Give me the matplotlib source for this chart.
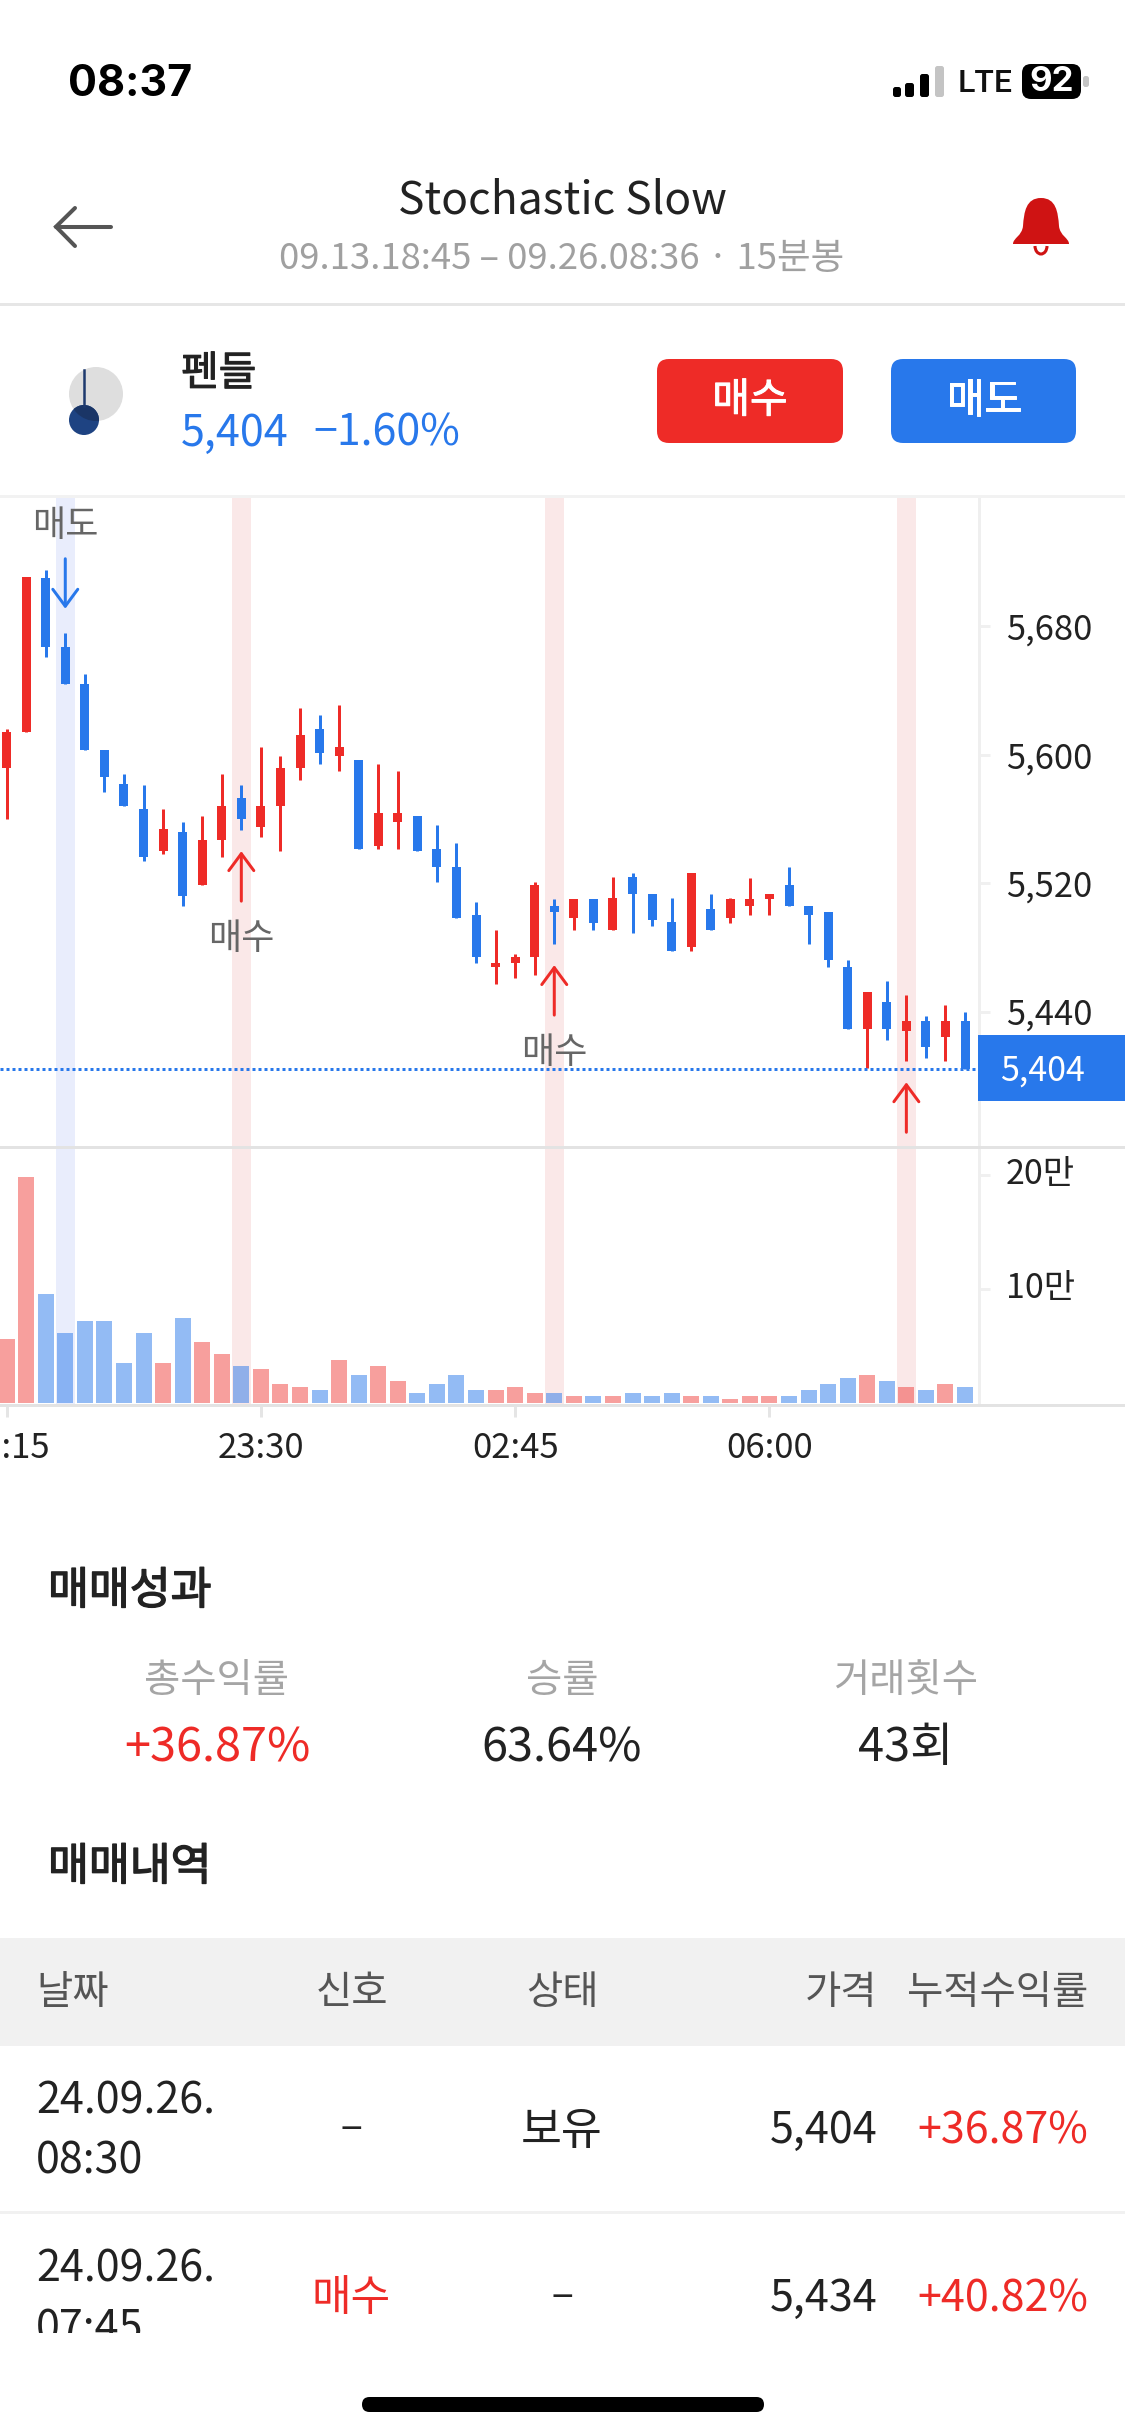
import matplotlib
matplotlib.use('Agg')
import matplotlib.pyplot as plt
from matplotlib.patches import Rectangle, FancyBboxPatch, Circle, PathPatch, Arc
from matplotlib.path import Path
from matplotlib.transforms import offset_copy
import matplotlib.patheffects as pe
import numpy as np

plt.rcParams['font.family'] = ['Noto Sans CJK KR', 'DejaVu Sans']

RED = '#ee2b27'
BLUE = '#2878eb'
DARK = '#222222'
GREY = '#a5a5a5'

# 15 minute candles
opens = [5592, 5614, 5710, 5667, 5644, 5603, 5582, 5566, 5540, 5552,
         5519, 5547, 5573, 5555, 5568, 5592, 5616, 5599, 5597, 5543,
         5558, 5562, 5541, 5530, 5500, 5468, 5470, 5474, 5506, 5498,
         5510, 5491, 5524, 5513, 5496, 5480, 5504, 5498, 5506, 5510,
         5519, 5506, 5502, 5468, 5429, 5446, 5428, 5434, 5424, 5434]
closes = [5614, 5711, 5667, 5644, 5603, 5586, 5568, 5536, 5554, 5512,
          5547, 5568, 5560, 5568, 5592, 5612, 5601, 5605, 5541, 5564,
          5564, 5540, 5530, 5498, 5474, 5470, 5474, 5519, 5502, 5510,
          5495, 5511, 5513, 5497, 5478, 5526, 5491, 5510, 5510, 5513,
          5506, 5500, 5472, 5429, 5452, 5429, 5434, 5418, 5434, 5404]
highs = [5616, 5711, 5715, 5676, 5650, 5603, 5588, 5581, 5566, 5558,
         5562, 5588, 5581, 5605, 5599, 5629, 5625, 5631, 5597, 5594,
         5590, 5562, 5556, 5545, 5508, 5491, 5476, 5521, 5510, 5510,
         5510, 5524, 5526, 5513, 5511, 5526, 5513, 5511, 5523, 5513,
         5530, 5506, 5502, 5472, 5452, 5459, 5450, 5437, 5444, 5440]
lows = [5560, 5614, 5661, 5644, 5603, 5577, 5568, 5534, 5538, 5506,
        5519, 5536, 5553, 5549, 5540, 5584, 5594, 5590, 5541, 5541,
        5541, 5540, 5521, 5498, 5470, 5457, 5461, 5463, 5482, 5491,
        5491, 5491, 5489, 5493, 5478, 5478, 5491, 5495, 5500, 5500,
        5506, 5482, 5468, 5429, 5405, 5422, 5409, 5411, 5409, 5404]
# volume in units of 만
volumes = [5.56, 19.77, 9.5, 6.08, 7.13, 7.13, 3.45, 6.08, 3.45, 7.4,
           5.29, 4.24, 3.19, 2.92, 1.61, 1.35, 1.08, 3.71, 2.4, 3.19,
           1.87, 0.82, 1.61, 2.4, 1.08, 1.08, 1.35, 0.82, 0.82, 0.56,
           0.56, 0.56, 0.82, 0.56, 0.82, 0.56, 0.56, 0.29, 0.56, 0.56,
           0.56, 1.08, 1.61, 2.13, 2.4, 1.87, 1.35, 1.08, 1.61, 1.35]

price_ticks = [5440, 5520, 5600, 5680]
price_labels = ['5,440', '5,520', '5,600', '5,680']
vol_ticks = [10, 20]
vol_labels = ['10만', '20만']
time_ticks = [0, 13, 26, 39]
time_labels = ['20:15', '23:30', '02:45', '06:00']
buy_signals = [12, 28, 46]
sell_signals = [3]

W, H = 1125, 2436
AXIS_X = 979
TOP_Y, MID_Y, BOT_Y = 498, 1147, 1405
PX_PER_CANDLE = 19.56
PX_PER_WON = 1.605
FIRST_X = 6.6

fig = plt.figure(figsize=(W / 100, H / 100), dpi=100)


def px_axes(x0, y0, x1, y1):
    return fig.add_axes([x0 / W, 1 - y1 / H, (x1 - x0) / W, (y1 - y0) / H])


opens, closes, highs, lows, volumes = [
    np.array(a, dtype=float) for a in (opens, closes, highs, lows, volumes)
]
idx = np.arange(len(opens))
colors = [RED if c >= o else BLUE for o, c in zip(opens, closes)]
x_lims = (-FIRST_X / PX_PER_CANDLE, (AXIS_X - FIRST_X) / PX_PER_CANDLE)
last = closes[-1]

# price panel
ax = px_axes(0, TOP_Y, AXIS_X, MID_Y)
ax.set_xlim(*x_lims)
ax.set_ylim(last - (MID_Y - 1069.3) / PX_PER_WON, last + (1069.3 - TOP_Y) / PX_PER_WON)
ax.patch.set_alpha(0)
for i in buy_signals:
    ax.axvspan(i - 0.49, i + 0.49, color='#fae8e8', lw=0, zorder=0)
for i in sell_signals:
    ax.axvspan(i - 0.49, i + 0.49, color='#e9edfc', lw=0, zorder=0)
ax.vlines(idx, lows, highs, colors=colors, lw=2.16, capstyle='butt', zorder=2)
body_low = np.minimum(opens, closes)
body_h = np.abs(closes - opens)
ax.bar(idx, body_h, bottom=body_low, width=9 / PX_PER_CANDLE, color=colors, zorder=3)
ax.axhline(last, color=BLUE, lw=2.16, ls=(0, (1, 1)), zorder=4)


def signal_arrow(i, y, tip, tail, label_off, color, label):
    tip_tr = offset_copy(ax.transData, fig=fig, y=tip, units='dots')
    tail_tr = offset_copy(ax.transData, fig=fig, y=tail, units='dots')
    ax.annotate('', xy=(i, y), xycoords=tip_tr, xytext=(i, y), textcoords=tail_tr,
                arrowprops=dict(arrowstyle='->,head_length=12.2,head_width=9',
                                mutation_scale=1, shrinkA=0, shrinkB=0,
                                lw=2.16, color=color), zorder=5)
    ax.text(i, y, label, transform=offset_copy(ax.transData, fig=fig, y=label_off, units='dots'),
            ha='center', va='center', fontsize=26, color='#666666', clip_on=True, zorder=5)


for i in buy_signals:
    signal_arrow(i, lows[i], -21, -71, -109, RED, '매수')
for i in sell_signals:
    signal_arrow(i, highs[i], 24, 74, 107, BLUE, '매도')

ax.yaxis.tick_right()
ax.set_yticks(price_ticks, price_labels)
ax.set_xticks([])
ax.tick_params(axis='y', length=7.9, width=2.16, color='#f0f0f0', pad=11.5,
               labelsize=24.8, labelcolor=DARK)
for s in ax.spines.values():
    s.set_visible(False)

# volume panel
vax = px_axes(0, MID_Y, AXIS_X, BOT_Y)
vax.set_xlim(*x_lims)
vax.set_ylim(-2.3 / 11.4, (1402.7 - MID_Y) / 11.4)
vax.patch.set_alpha(0)
for i in buy_signals:
    vax.axvspan(i - 0.49, i + 0.49, color='#fae8e8', lw=0, zorder=0)
for i in sell_signals:
    vax.axvspan(i - 0.49, i + 0.49, color='#e9edfc', lw=0, zorder=0)
for i, v in enumerate(volumes):
    vax.bar(i, v, width=16 / PX_PER_CANDLE, color=colors[i],
            alpha=0.45 if colors[i] == RED else 0.5, lw=0, zorder=2)
vax.yaxis.tick_right()
vax.set_yticks(vol_ticks, vol_labels)
vax.set_xticks(time_ticks, time_labels)
vax.tick_params(axis='y', length=7.9, width=2.16, color='#f0f0f0', pad=11.5,
                labelsize=24.5, labelcolor=DARK)
vax.tick_params(axis='x', length=8.6, width=2.16, color='#e5e5e5', pad=10,
                labelsize=25, labelcolor=DARK)
for lbl in vax.get_yticklabels():
    lbl.set_verticalalignment('center')
for s in vax.spines.values():
    s.set_visible(False)

# everything around the chart, in screen pixels
ui = fig.add_axes([0, 0, 1, 1], zorder=5)
ui.set_xlim(0, W)
ui.set_ylim(H, 0)
ui.axis('off')
ui.patch.set_alpha(0)


def txt(x, y, s, size, color=DARK, ha='center', **kw):
    # va=center sits a bit high for these fonts
    return ui.text(x, y + 3, s, fontsize=size, color=color, ha=ha, va='center', **kw)


def medium(x, y, s, size, color=DARK, ha='center', stroke=0.7):
    # no medium weight installed, thicken the regular one a little
    t = txt(x, y, s, size, color=color, ha=ha)
    t.set_path_effects([pe.withStroke(linewidth=stroke, foreground=color)])
    return t


def rbox(x0, y0, x1, y1, r, color, **kw):
    ui.add_patch(FancyBboxPatch((x0 + r, y0 + r), x1 - x0 - 2 * r, y1 - y0 - 2 * r,
                                boxstyle=f'round,pad={r},rounding_size={r}',
                                fc=color, ec='none', **kw))


def rect(x0, y0, x1, y1, color, **kw):
    ui.add_patch(Rectangle((x0, y0), x1 - x0, y1 - y0, fc=color, ec='none', **kw))


# status bar
txt(68, 82, '08:37', 31, color='black', ha='left', family='Inter', weight='bold')
for x0, x1, y0, c in [(893, 901, 87, 'black'), (905, 914, 83, 'black'),
                      (920, 929, 74, 'black'), (935, 944, 66, '#c4c4c4')]:
    rbox(x0, y0, x1, 97, 2.5, c)
txt(958, 81, 'LTE', 23, color='#111111', ha='left', family='Roboto', weight='medium')
rbox(1022, 64, 1081, 99, 9, 'black')
txt(1052, 79, '92', 25, color='white', family='Inter', weight='bold')
rbox(1083, 76, 1089, 87, 2.5, '#c4c4c4')

# header
ui.plot([111, 56], [226.7, 226.7], color='#555555', lw=2.9, solid_capstyle='round')
ui.plot([75, 56, 75], [208, 226.7, 246], color='#555555', lw=2.9, solid_capstyle='round',
        solid_joinstyle='miter')
txt(562, 198, 'Stochastic Slow', 32)
txt(562, 256, '09.13.18:45 – 09.26.08:36 · 15분봉', 26.3, color='#a0a0a0')
bell = Path([(1041, 198), (1026, 198), (1024, 212), (1023, 226), (1022, 236), (1013, 238),
             (1013, 244), (1069, 244), (1069, 238), (1060, 236), (1059, 226), (1058, 212),
             (1056, 198), (1041, 198), (1041, 198)],
            [Path.MOVETO, Path.CURVE4, Path.CURVE4, Path.CURVE4, Path.CURVE4, Path.CURVE4,
             Path.LINETO, Path.LINETO, Path.CURVE4, Path.CURVE4, Path.CURVE4, Path.CURVE4,
             Path.CURVE4, Path.CURVE4, Path.CLOSEPOLY])
ui.add_patch(PathPatch(bell, fc='#cf1313', ec='none'))
ui.add_patch(Arc((1041, 246), 12, 16, theta1=0, theta2=180, color='#cf1313', lw=2.2))
rect(0, 302.5, W, 305.5, '#e6e6e6')

# coin row
grey_disc = Circle((96, 394), 27, fc='#dedede', ec='none')
ui.add_patch(grey_disc)
ui.add_patch(Circle((84, 420), 15, fc='#1e4382', ec='none'))
overlap = Circle((84, 420), 15, fc='#1a3566', ec='none')
ui.add_patch(overlap)
overlap.set_clip_path(grey_disc)
ui.plot([84, 84], [370, 406], color='#1e3a6e', lw=1.8)
medium(181, 371, '펜들', 29.5, ha='left')
txt(181, 431, '5,404', 31, color=BLUE, ha='left')
txt(313, 431, '−1.60%', 31, color=BLUE, ha='left')
rbox(657, 359, 843, 443, 12, RED)
rbox(891, 359, 1076, 443, 12, BLUE)
medium(750, 398, '매수', 29.5, color='white')
medium(984, 398, '매도', 29.5, color='white')
rect(0, 494.5, W, 497.5, '#f2f2f2')

# panel frame and current price tag
rect(AXIS_X - 1.5, TOP_Y, AXIS_X + 1.5, BOT_Y, '#efefef')
rect(0, MID_Y - 1.5, W, MID_Y + 1.5, '#e3e3e3')
rect(0, BOT_Y - 1.5, W, BOT_Y + 1.5, '#e3e3e3')
rect(978, 1035, W, 1101, BLUE)
txt(1000, 1068, '5,404', 24.5, color='white', ha='left')

# performance
medium(48, 1588, '매매성과', 32, stroke=1.0)
ui.texts[-1].set_ha('left')
txt(217, 1678, '총수익률', 28.4, color=GREY)
txt(562, 1678, '승률', 28.4, color=GREY)
txt(906, 1678, '거래횟수', 28.4, color=GREY)
txt(217, 1745, '+36.87%', 33.8, color=RED)
txt(562, 1745, '63.64%', 33.8)
txt(906, 1745, '43회', 33.8)

# history table
medium(48, 1864, '매매내역', 32, ha='left', stroke=1.0)
rect(0, 1938, W, 2046, '#f1f1f1')
txt(36, 1990, '날짜', 28.4, color='#555555', ha='left')
txt(351.5, 1990, '신호', 28.4, color='#555555')
txt(562, 1990, '상태', 28.4, color='#555555')
txt(877, 1990, '가격', 28.4, color='#555555', ha='right')
txt(1088, 1990, '누적수익률', 28.4, color='#555555', ha='right')

txt(36, 2098, '24.09.26.', 31, ha='left')
txt(36, 2158, '08:30', 31, ha='left')
txt(351.5, 2128, '−', 28)
txt(562, 2128, '보유', 32)
txt(878, 2128, '5,404', 31, ha='right')
txt(1088, 2128, '+36.87%', 31, color=RED, ha='right')
rect(0, 2210.5, W, 2213.5, '#f1f1f1')
txt(36, 2267, '24.09.26.', 31, ha='left')
txt(36, 2327, '07:45', 31, ha='left')
txt(351.5, 2296, '매수', 31, color=RED)
txt(562, 2296, '−', 28)
txt(878, 2296, '5,434', 31, ha='right')
txt(1088, 2296, '+40.82%', 31, color=RED, ha='right')
rect(0, 2333, W, H, 'white', zorder=6)
rbox(362, 2397, 764, 2412, 7.5, 'black', zorder=7)

fig.savefig('out.png', dpi=100)
